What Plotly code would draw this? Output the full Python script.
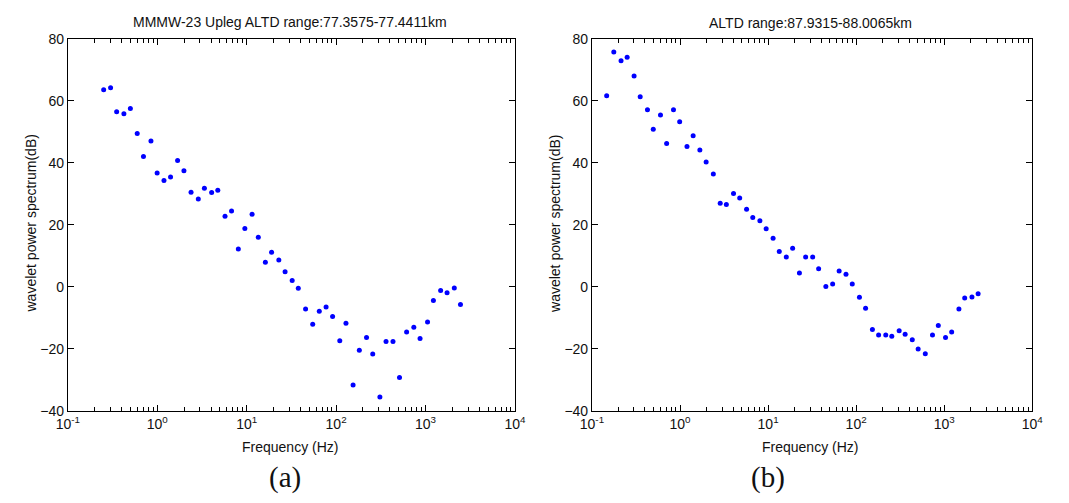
import plotly.graph_objects as go

# Panel (a): MMMW-23 Upleg ALTD 77.3575-77.4411 km
freq_a = [0.252, 0.301, 0.352, 0.424, 0.501, 0.598, 0.702, 0.851, 0.998, 1.19, 1.41, 1.69,
          1.99, 2.39, 2.88, 3.37, 4.06, 4.76, 5.73, 6.78, 8.07, 9.55, 11.5, 13.5,
          16.2, 19.0, 22.9, 26.9, 32.3, 37.8, 45.6, 54.8, 64.9, 77.3, 91.4, 110,
          129, 155, 182, 219, 257, 309, 362, 433, 512, 615, 740, 869,
          1054, 1225, 1476, 1742, 2099, 2460]
power_a = [63.5, 64.2, 56.4, 55.8, 57.5, 49.4, 42.0, 47.0, 36.7, 34.3, 35.4, 40.7,
           37.4, 30.5, 28.3, 31.8, 30.4, 31.1, 22.7, 24.4, 12.2, 18.8, 23.4, 16.0,
           7.9, 11.1, 8.6, 4.8, 2.0, -0.5, -7.2, -12.1, -7.9, -6.5, -9.6, -17.4,
           -11.8, -31.7, -20.5, -16.4, -21.7, -35.6, -17.7, -17.7, -29.3, -14.6, -13.1, -16.7,
           -11.4, -4.4, -1.2, -1.9, -0.4, -5.7]

# Panel (b): ALTD 87.9315-88.0065 km
freq_b = [0.147, 0.177, 0.214, 0.251, 0.301, 0.353, 0.427, 0.497, 0.600, 0.705, 0.843, 0.991,
          1.20, 1.41, 1.68, 1.98, 2.39, 2.86, 3.36, 4.05, 4.76, 5.70, 6.70, 8.07,
          9.51, 11.4, 13.4, 16.1, 19.0, 22.7, 26.7, 32.1, 37.5, 45.3, 54.1, 64.1,
          76.7, 90.4, 109, 128, 153, 180, 217, 254, 308, 360, 434, 506,
          610, 736, 857, 1035, 1216, 1469, 1710, 2065, 2427]
power_b = [61.6, 75.7, 72.9, 74.0, 68.0, 61.3, 57.1, 50.8, 55.4, 46.2, 57.1, 53.2,
           45.2, 48.7, 44.1, 40.2, 36.4, 26.9, 26.5, 30.1, 28.6, 25.0, 22.3, 21.3,
           18.7, 15.6, 11.4, 9.6, 12.4, 4.4, 9.6, 9.6, 5.8, 0.1, 0.9, 5.1,
           4.0, 0.9, -3.4, -6.9, -13.8, -15.6, -15.6, -16.0, -14.2, -15.3, -17.1, -20.1,
           -21.6, -15.6, -12.5, -16.4, -14.6, -7.2, -3.6, -3.3, -2.3]

title_a = "MMMW-23 Upleg ALTD range:77.3575-77.4411km"
title_b = "ALTD range:87.9315-88.0065km"
x_title = "Frequency (Hz)"
y_title = "wavelet power spectrum(dB)"
y_ticks = [-40, -20, 0, 20, 40, 60, 80]
x_ticks = [0.1, 1, 10, 100, 1000, 10000]
x_ticktext = ["10<sup>-1</sup>", "10<sup>0</sup>", "10<sup>1</sup>",
              "10<sup>2</sup>", "10<sup>3</sup>", "10<sup>4</sup>"]
x_minor = [m * 10.0 ** k for k in range(-1, 4) for m in range(2, 10)]

W, H = 1069, 503
FONT = "Liberation Sans, Arial, sans-serif"
AXC = "#000000"

fig = go.Figure()
fig.add_trace(go.Scatter(x=freq_a, y=power_a, mode="markers", xaxis="x", yaxis="y",
                         marker=dict(color="#0000ff", size=5), showlegend=False))
fig.add_trace(go.Scatter(x=freq_b, y=power_b, mode="markers", xaxis="x2", yaxis="y2",
                         marker=dict(color="#0000ff", size=5), showlegend=False))

def xax(domain, anchor):
    return dict(type="log", range=[-1, 4], domain=domain, anchor=anchor,
                tickmode="array", tickvals=x_ticks, ticktext=x_ticktext,
                ticks="inside", ticklen=6, tickcolor=AXC, tickwidth=1.3, mirror="allticks",
                showline=True, linecolor=AXC, linewidth=1, showgrid=False, zeroline=False,
                tickfont=dict(family=FONT, size=14, color="#111"),
                minor=dict(tickmode="array", tickvals=x_minor, ticks="inside", ticklen=4,
                           tickcolor=AXC, tickwidth=1.3, showgrid=False))

def yax(domain, anchor):
    return dict(range=[-40, 80], domain=domain, anchor=anchor, tickvals=y_ticks,
                ticks="inside", ticklen=6, tickcolor=AXC, tickwidth=1, mirror="allticks",
                showline=True, linecolor=AXC, linewidth=1, showgrid=False, zeroline=False,
                tickfont=dict(family=FONT, size=14, color="#111"))

yd = [1 - 416 / H, 1 - 31.7 / H]
dA = [57 / W, 514 / W]
dB = [592.7 / W, 1042.7 / W]
fig.update_layout(
    width=W, height=H, margin=dict(l=0, r=0, t=0, b=0),
    paper_bgcolor="white", plot_bgcolor="white",
    xaxis=xax(dA, "y"),
    yaxis=yax(yd, "x"),
    xaxis2=xax(dB, "y2"),
    yaxis2=yax(yd, "x2"),
)

def ann(text, x, y, size, family=FONT, angle=0):
    fig.add_annotation(text=text, x=x / W, y=1 - y / H, xref="paper", yref="paper",
                       showarrow=False, textangle=angle, xanchor="center", yanchor="middle",
                       font=dict(family=family, size=size, color="#111"))

ann(title_a, 284, 14.5, 14)
ann(title_b, 816, 15, 14)
ann(x_title, 284, 453, 14)
ann(x_title, 816, 453, 14)
ann(y_title, 19, 223, 14, angle=-90)
ann(y_title, 555, 223, 14, angle=-90)
ann("(a)", 279, 485, 29, family="Liberation Serif, Times New Roman, serif")
ann("(b)", 773, 485, 29, family="Liberation Serif, Times New Roman, serif")

fig.write_html("out.html")
